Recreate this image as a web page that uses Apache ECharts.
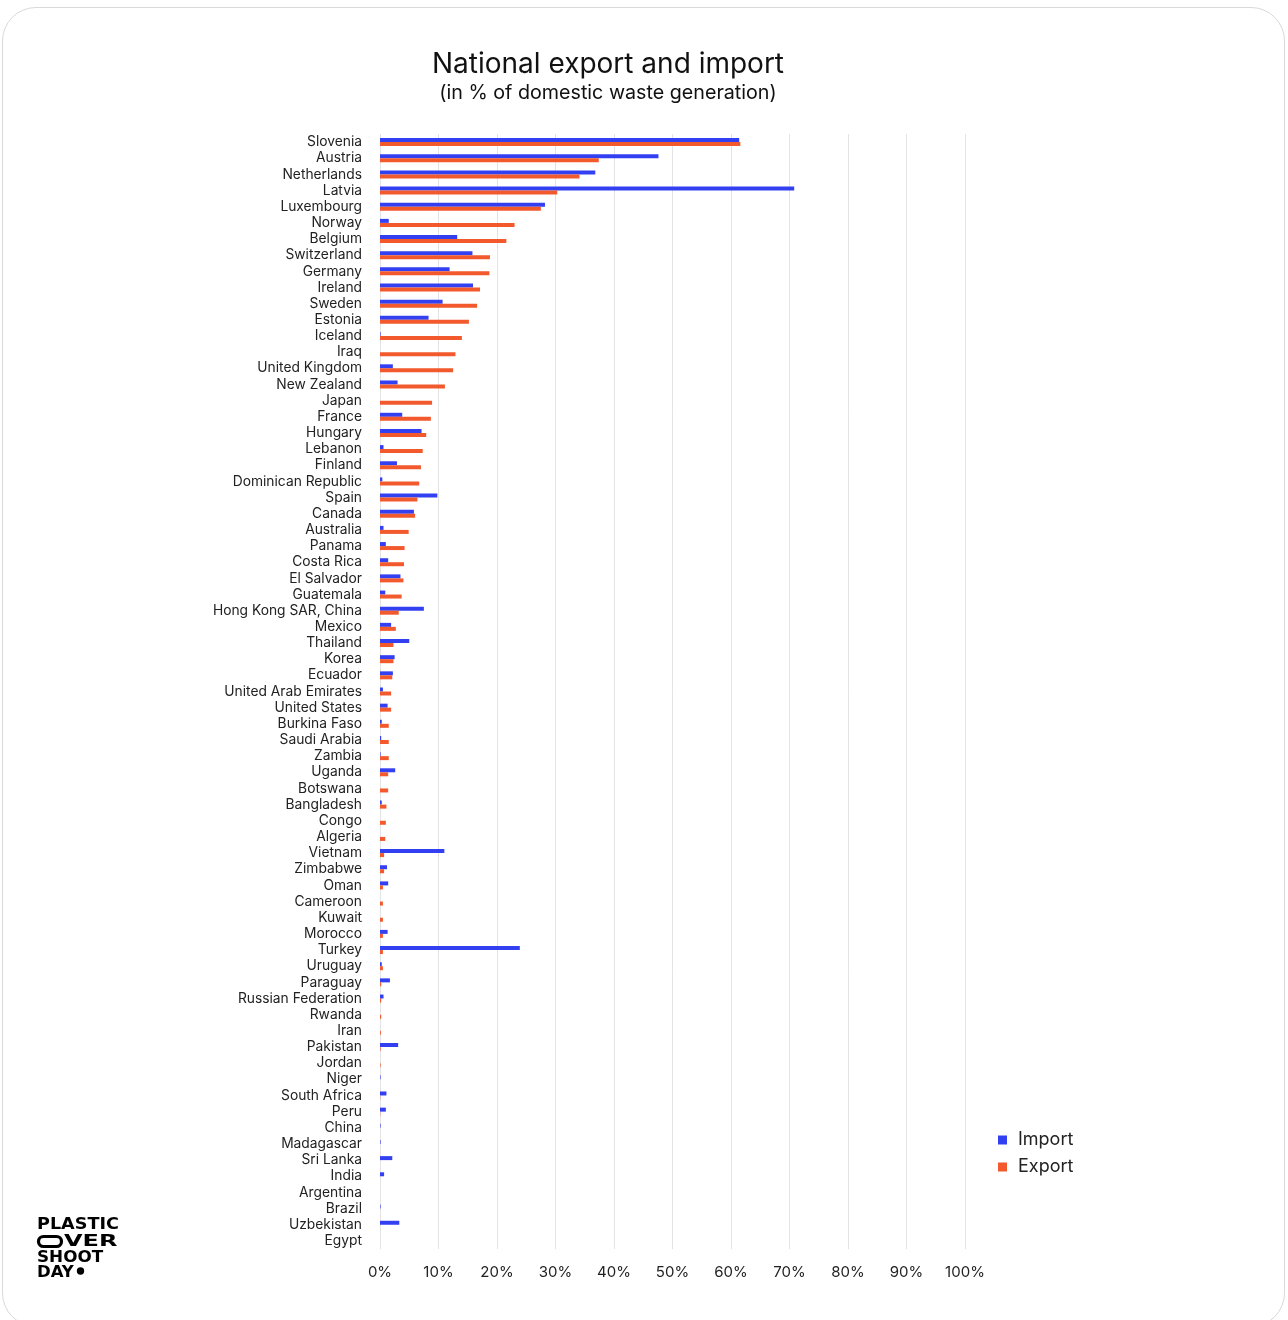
<!DOCTYPE html>
<html>
<head>
<meta charset="utf-8">
<script src="https://cdn.jsdelivr.net/npm/echarts@6/dist/echarts.min.js"></script>
<style>
html,body{margin:0;padding:0;background:#fff;}
#frame{position:absolute;left:2px;top:7px;width:1283px;height:1320px;border:1px solid #d9d9d9;border-radius:34px;box-sizing:border-box;}
#chart{position:absolute;left:0;top:0;width:1288px;height:1320px;}
</style>
</head>
<body>
<div id="frame"></div>
<div id="chart"></div>
<script>
const countries = ["Slovenia","Austria","Netherlands","Latvia","Luxembourg","Norway","Belgium","Switzerland","Germany","Ireland","Sweden","Estonia","Iceland","Iraq","United Kingdom","New Zealand","Japan","France","Hungary","Lebanon","Finland","Dominican Republic","Spain","Canada","Australia","Panama","Costa Rica","El Salvador","Guatemala","Hong Kong SAR, China","Mexico","Thailand","Korea","Ecuador","United Arab Emirates","United States","Burkina Faso","Saudi Arabia","Zambia","Uganda","Botswana","Bangladesh","Congo","Algeria","Vietnam","Zimbabwe","Oman","Cameroon","Kuwait","Morocco","Turkey","Uruguay","Paraguay","Russian Federation","Rwanda","Iran","Pakistan","Jordan","Niger","South Africa","Peru","China","Madagascar","Sri Lanka","India","Argentina","Brazil","Uzbekistan","Egypt"];

const importValues = [61.4,47.6,36.8,70.8,28.2,1.5,13.2,15.8,11.9,15.9,10.7,8.3,0.1,0,2.2,3.0,0,3.8,7.1,0.6,2.9,0.4,9.8,5.8,0.6,1.0,1.4,3.5,0.9,7.5,1.9,5.0,2.5,2.2,0.5,1.3,0.3,0.2,0.1,2.6,0,0.3,0,0,11.0,1.2,1.4,0,0,1.3,23.9,0.3,1.7,0.6,0,0,3.1,0,0.1,1.1,1.0,0.1,0.1,2.1,0.7,0,0.1,3.3,0];

const exportValues = [61.6,37.4,34.1,30.3,27.5,23.0,21.6,18.8,18.7,17.1,16.6,15.2,14.0,12.9,12.5,11.1,8.9,8.7,7.9,7.3,7.0,6.7,6.4,6.0,4.9,4.2,4.1,4.0,3.7,3.2,2.7,2.3,2.3,2.1,1.9,1.9,1.5,1.5,1.5,1.4,1.4,1.1,1.0,0.9,0.7,0.7,0.5,0.5,0.5,0.5,0.5,0.5,0.2,0.2,0.2,0.15,0.1,0.1,0,0.05,0.05,0,0,0,0,0,0,0,0];

const xTicks = [0,10,20,30,40,50,60,70,80,90,100];

const FONT = "Inter, 'Noto Sans', sans-serif";
const LOGO_FONT = "bold 16px 'DejaVu Sans', sans-serif";
const chart = echarts.init(document.getElementById('chart'), null, {renderer:'canvas'});
chart.setOption({
  animation:false,
  backgroundColor:'transparent',
  title:{
    text:'National export and import',
    subtext:'(in % of domestic waste generation)',
    left:603, top:46, textAlign:'center', itemGap:4,
    textStyle:{fontFamily:FONT,fontSize:28,fontWeight:'normal',color:'#111'},
    subtextStyle:{fontFamily:FONT,fontSize:19.7,color:'#111'}
  },
  legend:{
    orient:'vertical', left:993, top:1126, itemWidth:9, itemHeight:9, itemGap:9,
    icon:'rect',
    textStyle:{fontFamily:FONT,fontSize:18,color:'#222',padding:[0,0,0,6]},
    data:['Import','Export']
  },
  grid:{left:380, right:323, top:134, bottom:71, containLabel:false},
  xAxis:{
    type:'value', min:xTicks[0], max:xTicks[xTicks.length-1], interval:10,
    axisLine:{show:false}, axisTick:{show:false},
    axisLabel:{formatter:'{value}%', fontFamily:FONT, fontSize:15, color:'#222', margin:16},
    splitLine:{lineStyle:{color:'#e3e3e3',width:1}}
  },
  yAxis:{
    type:'category', inverse:true, data:countries,
    axisLine:{show:false}, axisTick:{show:false},
    axisLabel:{fontFamily:FONT, fontSize:13.8, color:'#222', margin:18, interval:0}
  },
  series:[
    {name:'Import', type:'bar', data:importValues, barWidth:4, barGap:'0%', itemStyle:{color:'#3340f2'}},
    {name:'Export', type:'bar', data:exportValues, barWidth:4, barGap:'0%', itemStyle:{color:'#f25a2e'}}
  ],
  graphic:[
    {type:'text', x:37, y:1225, scaleX:1.1, style:{x:0,y:0,text:'PLASTIC', font:LOGO_FONT, fill:'#000', verticalAlign:'middle', align:'left'}},
    {type:'rect', shape:{x:38.5, y:1236.5, width:23, height:10, r:5}, style:{fill:'none',stroke:'#000',lineWidth:3.2}},
    {type:'text', x:64, y:1241.5, scaleX:1.5, style:{x:0,y:0,text:'VER', font:LOGO_FONT, fill:'#000', verticalAlign:'middle', align:'left'}},
    {type:'text', x:37, y:1257.5, scaleX:1.05, style:{x:0,y:0,text:'SHOOT', font:LOGO_FONT, fill:'#000', verticalAlign:'middle', align:'left'}},
    {type:'text', x:37, y:1273, scaleX:1.03, style:{x:0,y:0,text:'DAY', font:LOGO_FONT, fill:'#000', verticalAlign:'middle', align:'left'}},
    {type:'circle', shape:{cx:80.5, cy:1271, r:3.7}, style:{fill:'#000'}}
  ]
});
</script>
</body>
</html>
